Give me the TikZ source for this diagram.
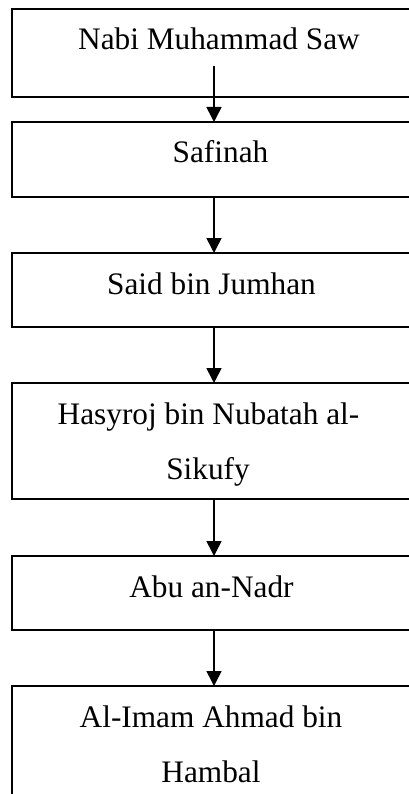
\documentclass[tikz,border=0pt]{standalone}
\usepackage{fontspec}
\setmainfont{Liberation Serif}
\usetikzlibrary{arrows.meta}
\begin{document}
\begin{tikzpicture}[x=1pt,y=-1pt,
  box/.style={draw, line width=2pt, rectangle, inner sep=0pt, outer sep=0pt, anchor=north west, minimum width=420pt},
  lbl/.style={font=\fontsize{31.3}{40}\selectfont, inner sep=0pt, anchor=base},
  link/.style={line width=1.6pt, -{Triangle[width=15pt,length=15pt]}}]
\useasboundingbox (0,0) rectangle (409,794);
\clip (0,0) rectangle (409,794);
% boxes
\node[box, minimum height=88pt]  (b1) at (12,9)   {};
\node[box, minimum height=75pt]  (b2) at (12,122) {};
\node[box, minimum height=74pt]  (b3) at (12,253) {};
\node[box, minimum height=116pt] (b4) at (12,383) {};
\node[box, minimum height=74pt]  (b5) at (12,556) {};
\node[box, minimum height=150pt] (b6) at (12,686) {};
% labels
\node[lbl] (t1)  at (219,50)    {Nabi Muhammad Saw};
\node[lbl] (t2)  at (220.5,163) {Safinah};
\node[lbl] (t3)  at (211.5,294) {Said bin Jumhan};
\node[lbl] (t4a) at (208.5,424) {Hasyroj bin Nubatah al-};
\node[lbl] (t4b) at (208,479)   {Sikufy};
\node[lbl] (t5)  at (211.5,597) {Abu an-Nadr};
\node[lbl] (t6a) at (211,727)   {Al-Imam Ahmad bin};
\node[lbl] (t6b) at (211,782)   {Hambal};
% connectors
\coordinate (s1) at (214,66);
\draw[link] (s1) -- (s1 |- b2.north);
\draw[link] (b2.south -| s1) -- (b3.north -| s1);
\draw[link] (b3.south -| s1) -- (b4.north -| s1);
\draw[link] (b4.south -| s1) -- (b5.north -| s1);
\draw[link] (b5.south -| s1) -- (b6.north -| s1);
\end{tikzpicture}
\end{document}
